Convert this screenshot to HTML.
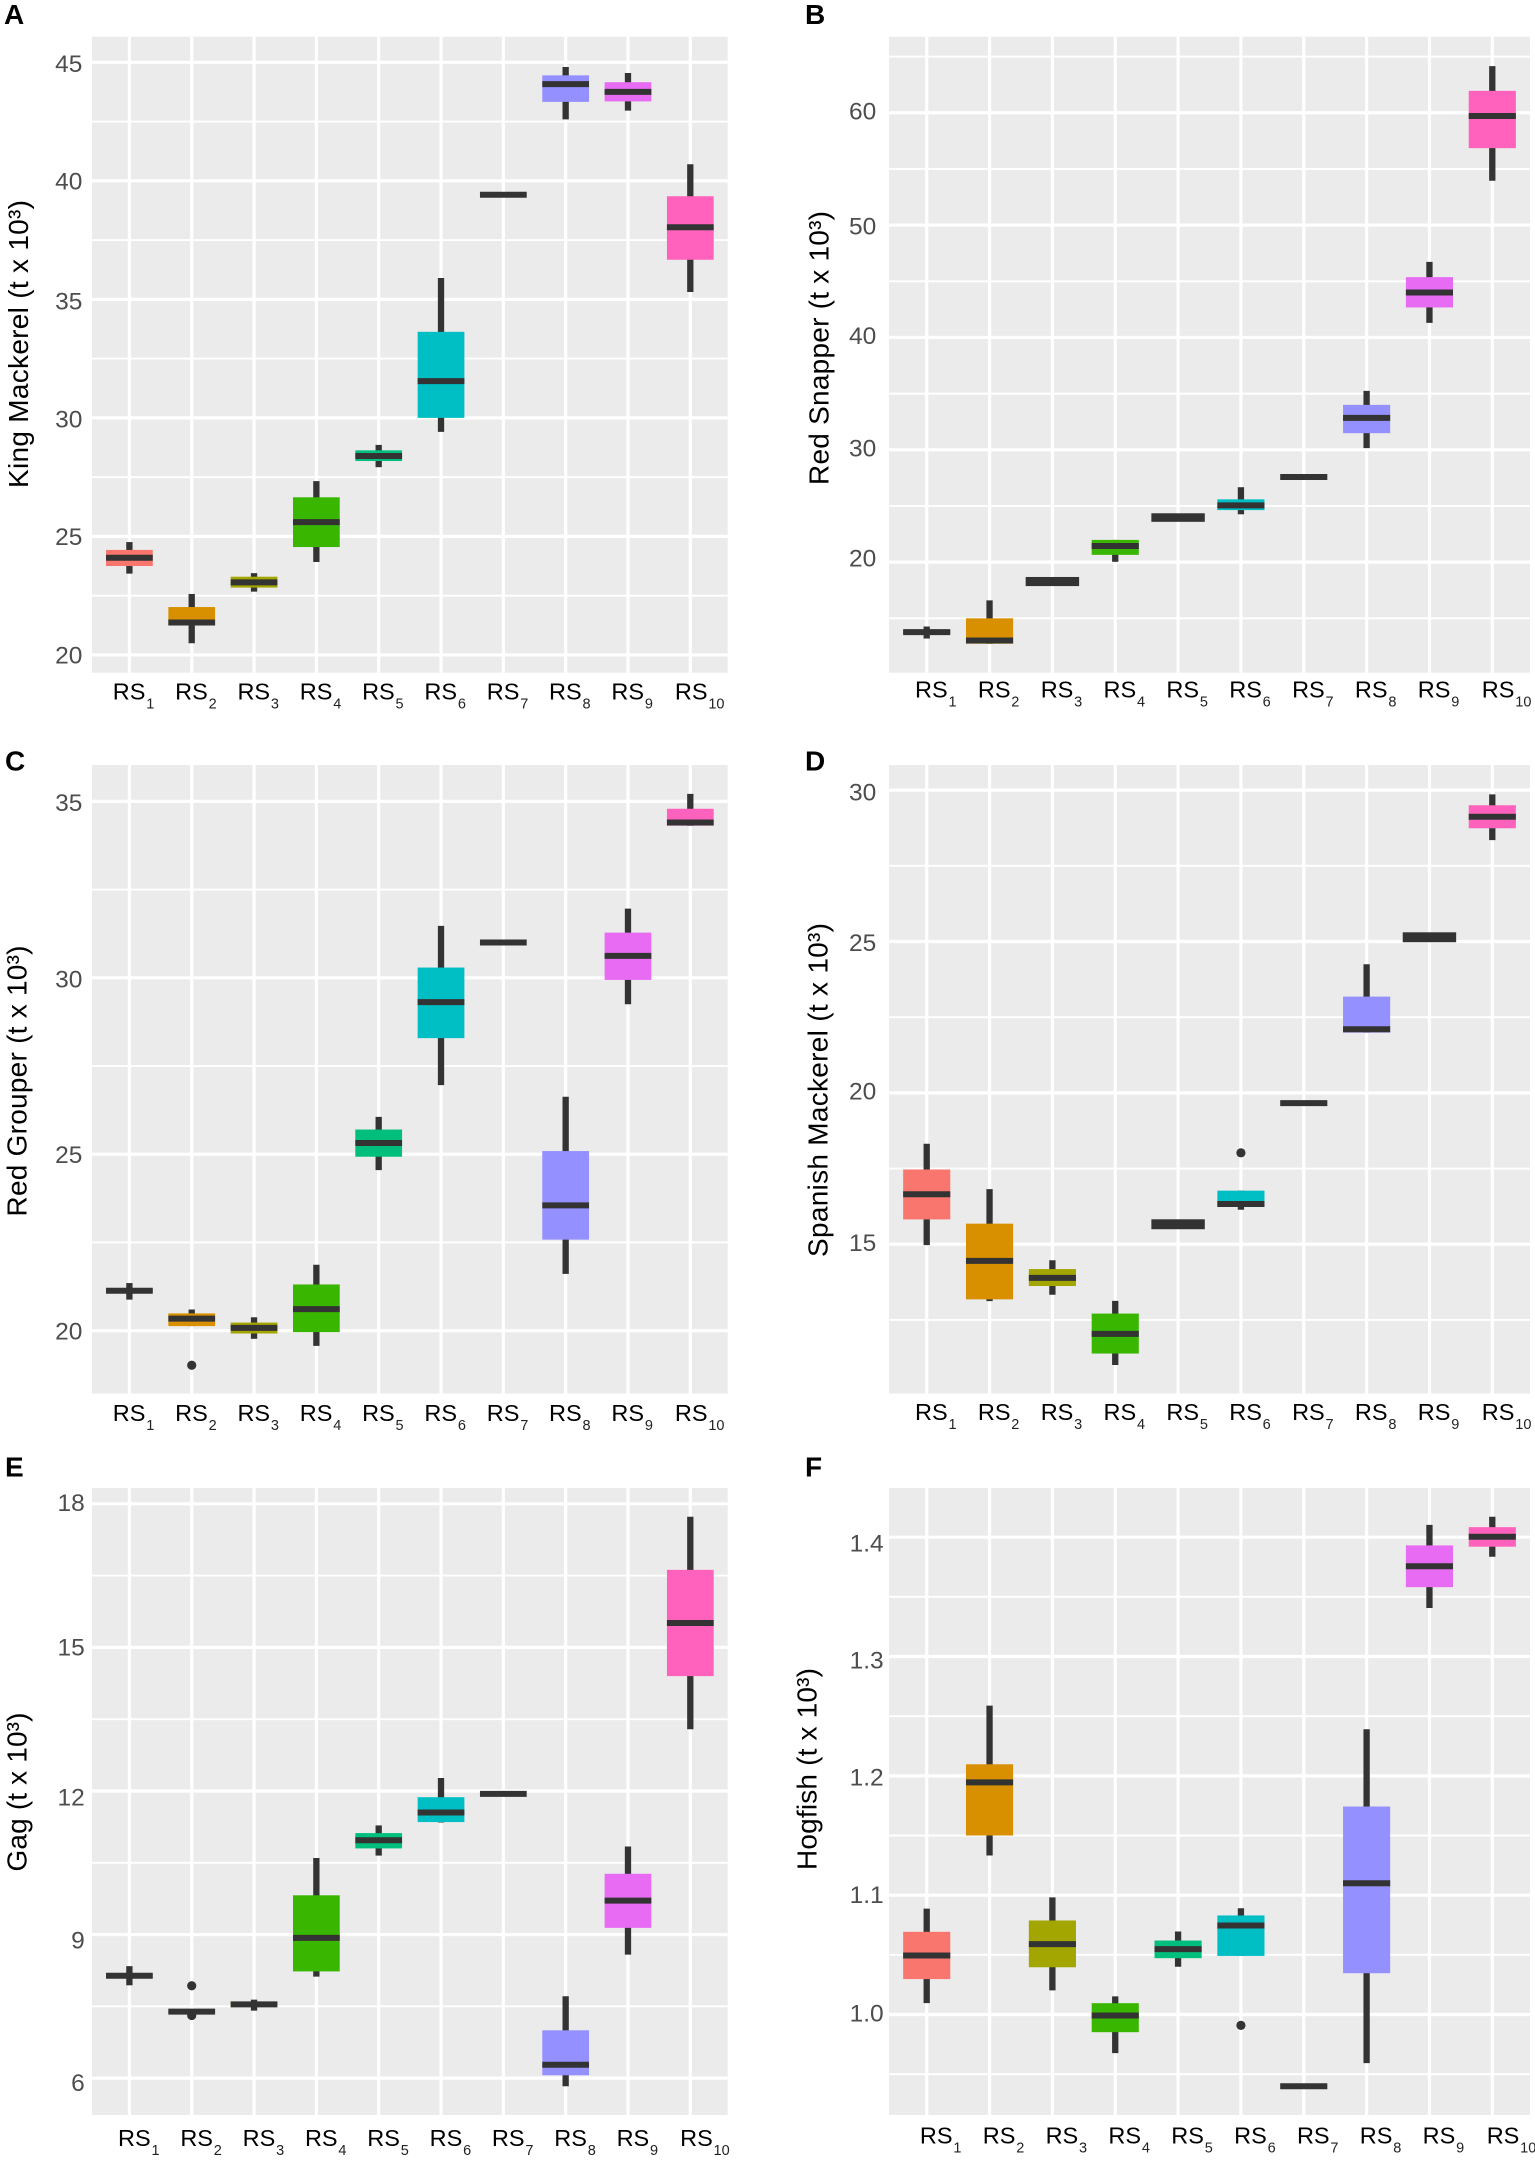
<!DOCTYPE html>
<html lang="en">
<head>
<meta charset="utf-8">
<title>Boxplots of fish landings by reconstruction scenario</title>
<style>
html,body{margin:0;padding:0;background:#fff;width:1535px;height:2162px;overflow:hidden}
svg{display:block;font-family:"Liberation Sans",Arial,sans-serif}
.letter{font-size:28px;font-weight:700;fill:#000}
.ytitle{font-size:28px;fill:#000}
.tick{font-size:24.5px;fill:#4d4d4d;text-anchor:end}
.xlab{font-size:23.5px;fill:#000}
</style>
</head>
<body>
<svg id="fig" xmlns="http://www.w3.org/2000/svg" width="1535" height="2162" viewBox="0 0 1535 2162">
  <text class="letter" x="4" y="24">A</text>
  <text class="letter" x="805" y="24">B</text>
  <text class="letter" x="5" y="770.5">C</text>
  <text class="letter" x="805" y="770.5">D</text>
  <text class="letter" x="5" y="1476.5">E</text>
  <text class="letter" x="805" y="1476.5">F</text>
  <text class="ytitle" text-anchor="middle" textLength="288" transform="translate(28 344) rotate(-90)">King Mackerel (t x 10³)</text>
  <text class="ytitle" text-anchor="middle" textLength="274" transform="translate(828.5 348) rotate(-90)">Red Snapper (t x 10³)</text>
  <text class="ytitle" text-anchor="middle" textLength="271" transform="translate(26.7 1081) rotate(-90)">Red Grouper (t x 10³)</text>
  <text class="ytitle" text-anchor="middle" textLength="334" transform="translate(827.6 1090) rotate(-90)">Spanish Mackerel (t x 10³)</text>
  <text class="ytitle" text-anchor="middle" textLength="159" transform="translate(26.7 1792) rotate(-90)">Gag (t x 10³)</text>
  <text class="ytitle" text-anchor="middle" textLength="202" transform="translate(816.3 1769) rotate(-90)">Hogfish (t x 10³)</text>
</svg>
<script>
// Shared categories and colours
var categories = ['1','2','3','4','5','6','7','8','9','10'];
var fillColors = ['#F8766D','#D89000','#A3A500','#39B600','#00BF7D','#00BFC4','#00B0F6','#9590FF','#E76BF3','#FF62BC'];

// A: King Mackerel
var aWhiskerHigh = [24.76,22.57,23.45,27.33,28.86,35.9,39.41,44.8,44.55,40.7];
var aQ3          = [24.43,22.02,23.3,26.65,28.63,33.63,39.41,44.45,44.16,39.35];
var aMedian      = [24.1,21.37,23.06,25.6,28.39,31.55,39.41,44.08,43.75,38.04];
var aQ1          = [23.75,21.24,22.84,24.55,28.18,30.0,39.41,43.33,43.35,36.67];
var aWhiskerLow  = [23.43,20.49,22.67,23.92,27.92,29.41,39.41,42.59,42.96,35.31];
var aOutlierCats = [];
var aOutlierVals = [];
var aCollapsed   = [];
var aMajor       = [45,40,35,30,25,20];
var aMinor       = [42.5,37.5,32.5,27.5,22.5];
var aTickLabels  = ['45','40','35','30','25','20'];

// B: Red Snapper
var bWhiskerHigh = [14.27,16.6,18.4,21.98,24.07,26.67,27.58,35.25,46.73,64.15];
var bQ3          = [13.9,15.0,18.4,21.98,24.07,25.59,27.58,34.0,45.37,61.95];
var bMedian      = [13.77,13.03,18.28,21.44,23.97,25.05,27.58,32.84,44.0,59.71];
var bQ1          = [13.62,12.74,18.15,20.65,23.87,24.63,27.58,31.48,42.67,56.85];
var bWhiskerLow  = [13.2,12.74,18.15,20.03,23.87,24.26,27.58,30.15,41.3,53.95];
var bOutlierCats = [];
var bOutlierVals = [];
var bCollapsed   = ['3','5'];
var bMajor       = [60,50,40,30,20];
var bMinor       = [65,55,45,35,25,15];
var bTickLabels  = ['60','50','40','30','20'];

// C: Red Grouper
var cWhiskerHigh = [21.35,20.6,20.38,21.87,26.06,31.47,31.0,26.63,31.96,35.21];
var cQ3          = [21.17,20.49,20.23,21.31,25.7,30.29,31.0,25.09,31.28,34.79];
var cMedian      = [21.13,20.34,20.08,20.61,25.32,29.31,31.0,23.55,30.62,34.4];
var cQ1          = [21.09,20.13,19.92,19.96,24.93,28.29,31.0,22.58,29.94,34.31];
var cWhiskerLow  = [20.88,20.13,19.77,19.57,24.55,26.96,31.0,21.61,29.25,34.31];
var cOutlierCats = ['2'];
var cOutlierVals = [19.02];
var cCollapsed   = [];
var cMajor       = [35,30,25,20];
var cMinor       = [32.5,27.5,22.5];
var cTickLabels  = ['35','30','25','20'];

// D: Spanish Mackerel
var dWhiskerHigh = [18.32,16.82,14.47,13.13,15.72,16.77,19.66,24.25,25.2,29.86];
var dQ3          = [17.47,15.68,14.18,12.71,15.72,16.77,19.66,23.18,25.2,29.5];
var dMedian      = [16.65,14.45,13.89,12.04,15.66,16.33,19.66,22.1,25.14,29.12];
var dQ1          = [15.82,13.18,13.62,11.39,15.6,16.23,19.66,21.99,25.08,28.74];
var dWhiskerLow  = [14.97,13.12,13.33,11.01,15.6,16.14,19.66,21.99,25.08,28.35];
var dOutlierCats = ['6'];
var dOutlierVals = [18.02];
var dCollapsed   = ['5','9'];
var dMajor       = [30,25,20,15];
var dMinor       = [27.5,22.5,17.5,12.5];
var dTickLabels  = ['30','25','20','15'];

// E: Gag
var eWhiskerHigh = [8.34,7.42,7.64,10.6,11.28,12.27,11.94,7.71,10.84,17.73];
var eQ3          = [8.17,7.42,7.58,9.82,11.12,11.87,11.94,7.0,10.27,16.62];
var eMedian      = [8.14,7.39,7.54,8.93,10.97,11.55,11.94,6.28,9.71,15.51];
var eQ1          = [8.11,7.36,7.5,8.23,10.8,11.35,11.94,6.06,9.14,14.4];
var eWhiskerLow  = [7.94,7.36,7.41,8.12,10.65,11.34,11.94,5.83,8.58,13.29];
var eOutlierCats = ['2','2'];
var eOutlierVals = [7.93,7.31];
var eCollapsed   = [];
var eMajor       = [18,15,12,9,6];
var eMinor       = [16.5,13.5,10.5,7.5];
var eTickLabels  = ['18','15','12','9','6'];

// F: Hogfish
var fWhiskerHigh = [1.0887,1.2588,1.0982,1.0152,1.0696,1.0891,0.9399,1.239,1.4103,1.4171];
var fQ3          = [1.0693,1.2097,1.0788,1.0095,1.062,1.083,0.9399,1.1743,1.3931,1.4084];
var fMedian      = [1.0495,1.1945,1.059,0.9992,1.0548,1.0746,0.9399,1.11,1.3756,1.4004];
var fQ1          = [1.0297,1.15,1.0396,0.9852,1.0472,1.0491,0.9399,1.0346,1.3581,1.392];
var fWhiskerLow  = [1.0095,1.1332,1.0202,0.9676,1.04,1.0491,0.9399,0.9593,1.3406,1.3836];
var fOutlierCats = ['6'];
var fOutlierVals = [0.9909];
var fCollapsed   = [];
var fMajor       = [1.4,1.3,1.2,1.1,1.0];
var fMinor       = [1.35,1.25,1.15,1.05,0.95];
var fTickLabels  = ['1.4','1.3','1.2','1.1','1.0'];

var NS = 'http://www.w3.org/2000/svg';
var fig = document.getElementById('fig');

function make(tag, attrs, parent) {
  var el = document.createElementNS(NS, tag);
  for (var k in attrs) { el.setAttribute(k, attrs[k]); }
  parent.appendChild(el);
  return el;
}

function drawPanel(p) {
  var g = make('g', {}, fig);
  
  

  var n = categories.length;
  var step = (p.right - p.left) / (n - 1 + 1.2);
  function xPos(i) { return p.left + (i + 0.6) * step; }
  function yPos(v) { return p.top + (p.domainTop - v) / (p.domainTop - p.domainBottom) * (p.bottom - p.top); }
  var boxW = 0.75 * step;

  var bg = make('rect', {x: p.left, y: p.top, width: p.right - p.left, height: p.bottom - p.top, fill: '#EBEBEB'}, g);
  
  

  p.minor.forEach(function (v) {
    var line = make('line', {x1: p.left, x2: p.right, y1: yPos(v), y2: yPos(v), stroke: '#fff', 'stroke-width': 1.9}, g);
    
    
  });
  p.major.forEach(function (v, i) {
    var line = make('line', {x1: p.left, x2: p.right, y1: yPos(v), y2: yPos(v), stroke: '#fff', 'stroke-width': 3.2}, g);
    
    
    var t = make('text', {x: p.tickRight, y: yPos(v) + 8.6 + p.tickNudge[i], 'class': 'tick'}, g);
    
    
    t.textContent = p.tickLabels[i];
  });

  categories.forEach(function (c, i) {
    var x = xPos(i);
    var line = make('line', {x1: x, x2: x, y1: p.top, y2: p.bottom, stroke: '#fff', 'stroke-width': 3.2}, g);
    
    

    var lab = make('text', {x: x + p.labelOffset + (c === '10' ? 1.2 : 0), y: p.labelBase, 'class': 'xlab'}, g);
    
    
    lab.appendChild(document.createTextNode('RS'));
    var sub = make('tspan', {dx: 0.8, dy: 9, 'font-size': 14.5, fill: '#222'}, lab);
    sub.textContent = c;
  });

  categories.forEach(function (c, i) {
    var x = xPos(i);
    var box = make('g', {}, g);
    
    

    var collapsed = p.collapsed.indexOf(c) >= 0;
    if (p.whiskerHigh[i] > p.q3[i] || p.whiskerLow[i] < p.q1[i]) {
      var wh = make('line', {x1: x, x2: x, y1: yPos(p.whiskerHigh[i]), y2: yPos(p.whiskerLow[i]), stroke: '#333', 'stroke-width': 6.3}, box);
      
      
    }
    var rect = make('rect', {x: x - boxW / 2, y: yPos(p.q3[i]), width: boxW, height: Math.max(0, yPos(p.q1[i]) - yPos(p.q3[i])), fill: fillColors[i]}, box);
    if (collapsed) { rect.setAttribute('stroke', '#333'); rect.setAttribute('stroke-width', 6.3); rect.setAttribute('fill', '#333'); }
    
    
    var med = make('line', {x1: x - boxW / 2, x2: x + boxW / 2, y1: yPos(p.median[i]), y2: yPos(p.median[i]), stroke: '#333', 'stroke-width': 6}, box);
    
    
  });

  p.outlierCats.forEach(function (c, i) {
    var dot = make('circle', {cx: xPos(categories.indexOf(c)), cy: yPos(p.outlierVals[i]), r: 4.6, fill: '#333'}, g);
    
    
  });
}

drawPanel({id:'a', left:92, right:727.7, top:36.7, bottom:672.7, domainTop:46.08, domainBottom:19.25, tickRight:82.4, labelOffset:-16.6, labelBase:699.5, tickNudge:[1,0,1.5,1,0,0],
  whiskerHigh:aWhiskerHigh, q3:aQ3, median:aMedian, q1:aQ1, whiskerLow:aWhiskerLow, outlierCats:aOutlierCats, outlierVals:aOutlierVals, collapsed:aCollapsed, major:aMajor, minor:aMinor, tickLabels:aTickLabels});
drawPanel({id:'b', left:889, right:1530, top:36.7, bottom:672.7, domainTop:66.77, domainBottom:10.16, tickRight:876.3, labelOffset:-11.7, labelBase:697.5, tickNudge:[-2,1,-2,-2,-4],
  whiskerHigh:bWhiskerHigh, q3:bQ3, median:bMedian, q1:bQ1, whiskerLow:bWhiskerLow, outlierCats:bOutlierCats, outlierVals:bOutlierVals, collapsed:bCollapsed, major:bMajor, minor:bMinor, tickLabels:bTickLabels});
drawPanel({id:'c', left:92, right:727.7, top:765, bottom:1393.5, domainTop:36.03, domainBottom:18.22, tickRight:82.4, labelOffset:-16.6, labelBase:1421, tickNudge:[1,1,0,0],
  whiskerHigh:cWhiskerHigh, q3:cQ3, median:cMedian, q1:cQ1, whiskerLow:cWhiskerLow, outlierCats:cOutlierCats, outlierVals:cOutlierVals, collapsed:cCollapsed, major:cMajor, minor:cMinor, tickLabels:cTickLabels});
drawPanel({id:'d', left:889, right:1530, top:765, bottom:1393.5, domainTop:30.83, domainBottom:10.07, tickRight:876.3, labelOffset:-11.7, labelBase:1420, tickNudge:[2,1,-2,-2],
  whiskerHigh:dWhiskerHigh, q3:dQ3, median:dMedian, q1:dQ1, whiskerLow:dWhiskerLow, outlierCats:dOutlierCats, outlierVals:dOutlierVals, collapsed:dCollapsed, major:dMajor, minor:dMinor, tickLabels:dTickLabels});
drawPanel({id:'e', left:92, right:727.7, top:1488, bottom:2115, domainTop:18.33, domainBottom:5.23, tickRight:84.8, labelOffset:-11.4, labelBase:2146, tickNudge:[-1.5,-0.5,6,5.5,4.5],
  whiskerHigh:eWhiskerHigh, q3:eQ3, median:eMedian, q1:eQ1, whiskerLow:eWhiskerLow, outlierCats:eOutlierCats, outlierVals:eOutlierVals, collapsed:eCollapsed, major:eMajor, minor:eMinor, tickLabels:eTickLabels});
drawPanel({id:'f', left:889, right:1530, top:1488, bottom:2115, domainTop:1.4412, domainBottom:0.9158, tickRight:883.7, labelOffset:-6.8, labelBase:2143.5, tickNudge:[5.5,3.5,1,-1,-1.5],
  whiskerHigh:fWhiskerHigh, q3:fQ3, median:fMedian, q1:fQ1, whiskerLow:fWhiskerLow, outlierCats:fOutlierCats, outlierVals:fOutlierVals, collapsed:fCollapsed, major:fMajor, minor:fMinor, tickLabels:fTickLabels});
</script>
</body>
</html>
